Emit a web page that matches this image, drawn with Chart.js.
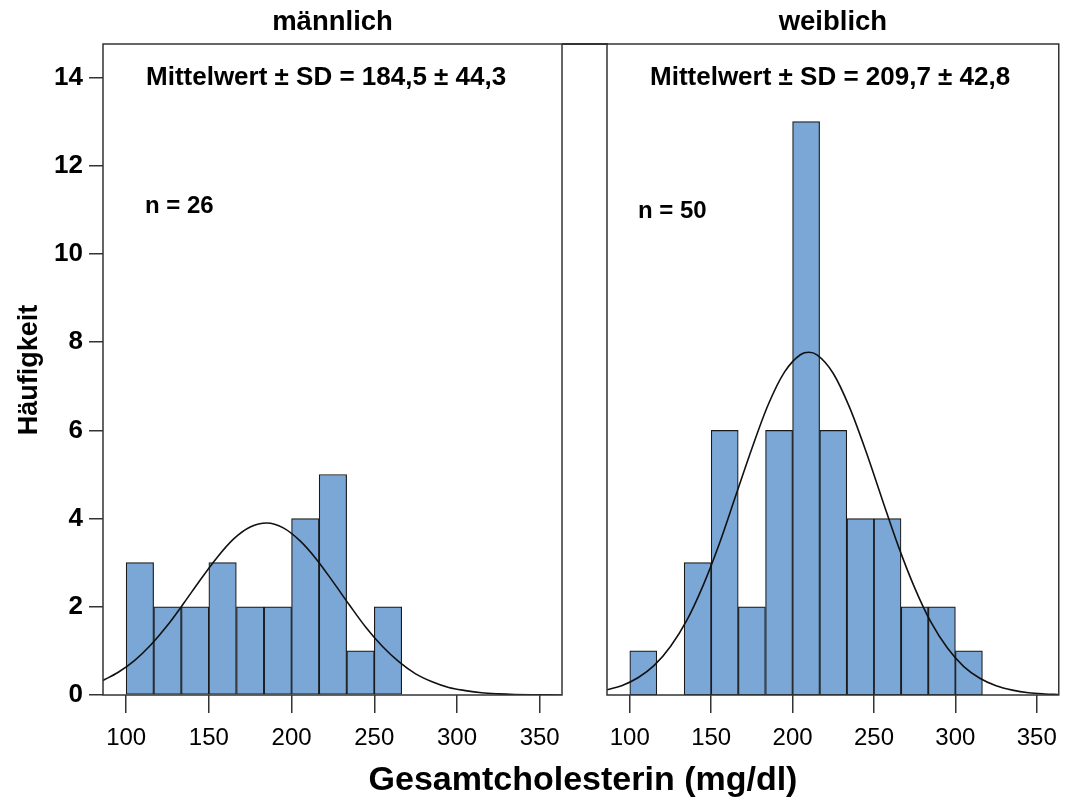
<!DOCTYPE html>
<html><head><meta charset="utf-8">
<script src="https://cdn.jsdelivr.net/npm/chart.js@4"></script>
<style>
html,body{margin:0;padding:0;background:#fff;overflow:hidden;width:1068px;height:801px}
canvas{position:absolute;top:0}
#c1{left:0}
#c2{left:585px}
#xt{position:absolute;left:183px;width:800px;top:758px;text-align:center;font:bold 34px "Liberation Sans",Arial,sans-serif;color:#000;line-height:40px}
#bridge{position:absolute;left:562px;top:43px;width:46px;height:1.5px;background:#333}
</style></head><body>
<canvas id="c1" width="575" height="760"></canvas>
<canvas id="c2" width="483" height="760"></canvas>
<div id="bridge"></div>
<div id="xt">Gesamtcholesterin (mg/dl)</div>
<script>
// ---- data ----
const xTicks = [100, 150, 200, 250, 300, 350];
const yTicks = [0, 2, 4, 6, 8, 10, 12, 14];
const binCenters = [108.3, 125, 141.7, 158.3, 175, 191.7, 208.3, 225, 241.7, 258.3, 275, 291.7, 308.3];
const maleCounts = [3, 2, 2, 3, 2, 2, 4, 5, 1, 2];
const femaleCounts = [1, 0, 3, 6, 2, 6, 13, 6, 4, 4, 2, 2, 1];
const maleCurveX = [86, 95, 105, 115, 125, 135, 145, 155, 165, 175, 185, 195, 205, 215, 225, 235, 245, 255, 265, 275, 285, 295, 305, 315, 325, 335, 345, 355, 363];
const maleCurveY = [0.33, 0.51, 0.78, 1.14, 1.58, 2.09, 2.62, 3.12, 3.54, 3.81, 3.90, 3.79, 3.50, 3.08, 2.57, 2.04, 1.53, 1.10, 0.75, 0.48, 0.30, 0.17, 0.10, 0.05, 0.026, 0.012, 0.005, 0.002, 0.001];
const femaleCurveX = [86, 95, 105, 115, 125, 135, 145, 155, 165, 175, 185, 195, 205, 210, 215, 225, 235, 245, 255, 265, 275, 285, 295, 305, 315, 325, 335, 345, 355, 363];
const femaleCurveY = [0.12, 0.21, 0.39, 0.67, 1.10, 1.69, 2.48, 3.43, 4.51, 5.59, 6.58, 7.32, 7.72, 7.77, 7.71, 7.29, 6.52, 5.53, 4.44, 3.37, 2.43, 1.65, 1.07, 0.65, 0.38, 0.21, 0.11, 0.05, 0.024, 0.013];
const panels = ['männlich', 'weiblich'];
const statsText = ['Mittelwert ± SD = 184,5 ± 44,3', 'Mittelwert ± SD = 209,7 ± 42,8'];
const nText = ['n = 26', 'n = 50'];
const yTitle = 'Häufigkeit';

const FONT = '"Liberation Sans", Arial, sans-serif';
Chart.defaults.font.family = FONT;
Chart.defaults.color = '#000';

const panelPlugin = {
  id: 'panelText',
  afterDraw(chart, args, o) {
    const ctx = chart.ctx, a = chart.chartArea;
    ctx.save();
    ctx.strokeStyle = '#333';
    ctx.lineWidth = 1.5;
    ctx.strokeRect(a.left, a.top, a.right - a.left, a.bottom - a.top);
    ctx.fillStyle = '#000';
    ctx.font = 'bold 27.5px ' + FONT;
    ctx.textAlign = 'center';
    ctx.textBaseline = 'middle';
    ctx.fillText(o.title, (a.left + a.right) / 2, 22);
    ctx.textAlign = 'left';
    ctx.font = 'bold 26px ' + FONT;
    ctx.fillText(o.stats, a.left + 43, 78);
    ctx.font = 'bold 24px ' + FONT;
    ctx.fillText(o.n, a.left + o.nx, o.ny);
    if (o.ytitle) {
      ctx.translate(30, 370);
      ctx.rotate(-Math.PI / 2);
      ctx.textAlign = 'center';
      ctx.font = 'bold 27px ' + FONT;
      ctx.fillText(o.ytitle, 0, 0);
    }
    ctx.restore();
  }
};

function makeChart(id, counts, cx, cy, idx, showY, pad) {
  const bars = counts.map((c, i) => ({x: binCenters[i], y: c}));
  const curve = cx.map((x, i) => ({x: x, y: cy[i]}));
  return new Chart(document.getElementById(id), {
    type: 'bar',
    data: {
      datasets: [
        {type: 'line', data: curve, borderColor: '#111', borderWidth: 1.6, pointRadius: 0, cubicInterpolationMode: 'monotone', fill: false},
        {type: 'bar', data: bars, backgroundColor: '#7aa7d6', borderColor: '#1a1a1a', borderWidth: 1.2, borderSkipped: false, barPercentage: 1, categoryPercentage: 1}
      ]
    },
    options: {
      responsive: false,
      animation: false,
      events: [],
      layout: {padding: pad},
      plugins: {
        legend: {display: false},
        tooltip: {enabled: false},
        panelText: {title: panels[idx], stats: statsText[idx], n: nText[idx], nx: idx === 0 ? 42 : 31, ny: idx === 0 ? 206 : 211, ytitle: showY ? yTitle : null}
      },
      scales: {
        x: {
          type: 'linear', min: 86, max: 363.5, offset: false,
          afterBuildTicks: s => { s.ticks = xTicks.map(v => ({value: v})); },
          afterFit: s => { s.height = 65; },
          grid: {display: true, offset: false, drawOnChartArea: false, drawTicks: true, tickLength: 18, tickColor: '#333', lineWidth: 1.5},
          border: {display: false},
          ticks: {font: {size: 24}, padding: 11, color: '#000', maxRotation: 0, autoSkip: false}
        },
        y: {
          type: 'linear', min: 0, max: 14.76,
          display: showY,
          afterBuildTicks: s => { s.ticks = yTicks.map(v => ({value: v})); },
          afterFit: s => { s.width = showY ? 103 : 0; },
          grid: {display: true, drawOnChartArea: false, drawTicks: true, tickLength: 14, tickColor: '#333', lineWidth: 1.5},
          border: {display: false},
          ticks: {font: {size: 26, weight: 'bold'}, padding: 6, color: '#000'}
        }
      }
    },
    plugins: [panelPlugin]
  });
}

makeChart('c1', maleCounts, maleCurveX, maleCurveY, 0, true, {top: 44, right: 13, left: 0, bottom: 0});
makeChart('c2', femaleCounts, femaleCurveX, femaleCurveY, 1, false, {top: 44, right: 4, left: 22, bottom: 0});
</script>
</body></html>
